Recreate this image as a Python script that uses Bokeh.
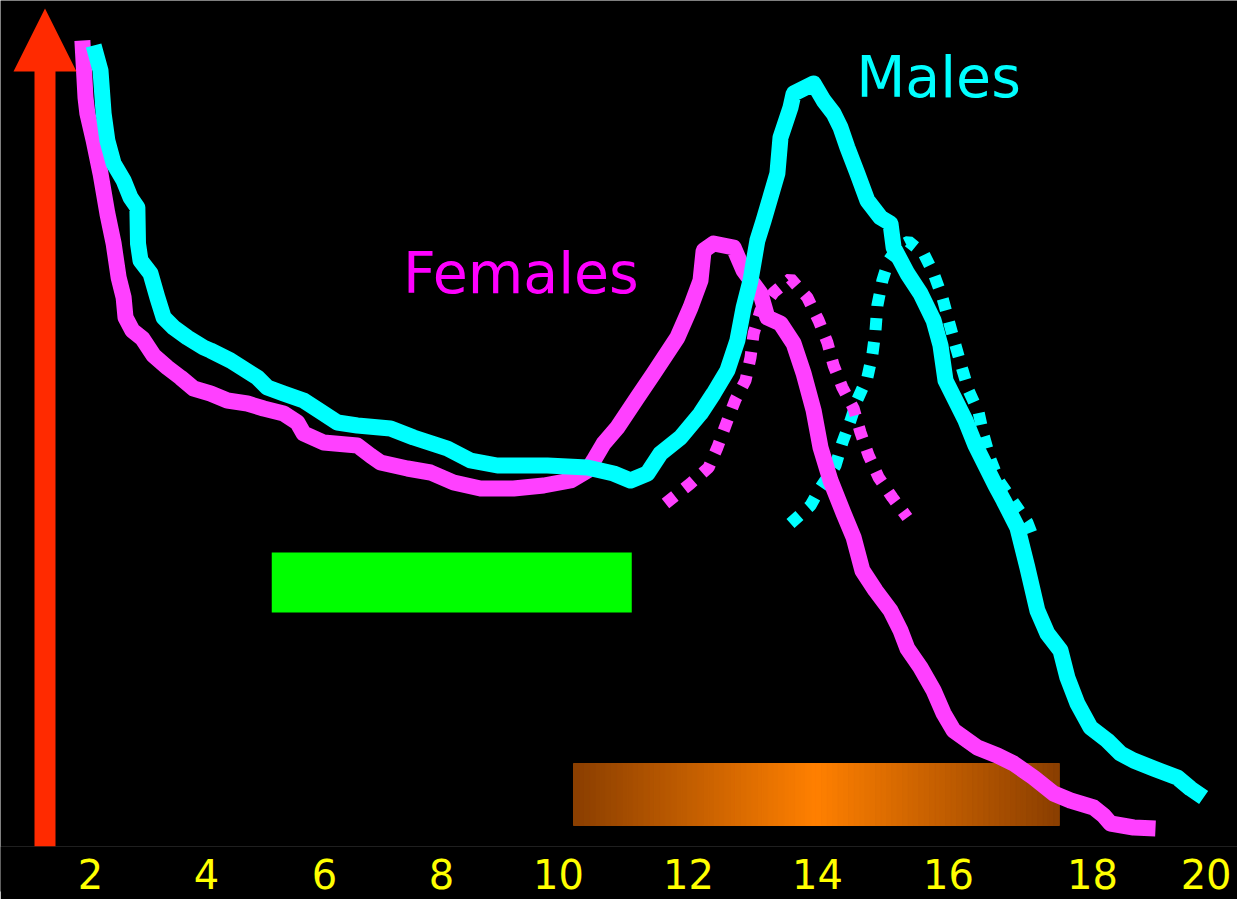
from bokeh.plotting import figure
from bokeh.models import Range1d, FixedTicker
from bokeh.core.properties import value
from bokeh.embed import file_html
from bokeh.resources import INLINE

# ---- data (age in years, growth velocity in arbitrary units) ----
female_age = [1.87, 1.92, 1.95, 2.05, 2.16, 2.27, 2.37, 2.45, 2.53, 2.56, 2.67, 2.83, 3.01, 3.23,
              3.44, 3.65, 3.92, 4.19, 4.51, 4.77, 5.09, 5.31, 5.41, 5.73, 6.27, 6.48, 6.64, 7.07,
              7.44, 7.81, 8.24, 8.77, 9.25, 9.68, 9.95, 10.05, 10.21, 10.43, 10.75, 11.01, 11.39,
              11.60, 11.76, 11.81, 11.97, 12.29, 12.45, 12.72, 12.83, 13.04, 13.25, 13.41, 13.57,
              13.68, 13.84, 14.05, 14.21, 14.35, 14.56, 14.80, 14.96, 15.07, 15.28, 15.49, 15.65,
              15.81, 16.19, 16.51, 16.77, 17.09, 17.41, 17.68, 18.05, 18.21, 18.32, 18.69, 19.04]
female_vel = [81.8, 76.1, 74.5, 71.8, 68.5, 64.5, 61.5, 58.1, 56.1, 54.1, 52.8, 52.0, 50.3, 49.1,
              48.1, 47.0, 46.5, 45.8, 45.5, 45.0, 44.5, 43.6, 42.5, 41.6, 41.3, 40.3, 39.6, 39.0,
              38.6, 37.6, 37.0, 37.0, 37.3, 37.8, 38.8, 39.8, 41.5, 43.1, 46.1, 48.5, 52.1,
              55.1, 57.8, 60.8, 61.5, 61.1, 58.8, 56.5, 54.1, 53.5, 51.5, 48.5, 44.8,
              41.1, 37.8, 34.5, 32.1, 28.8, 26.8, 24.8, 22.8, 21.0, 19.1, 16.8, 14.5,
              12.8, 11.1, 10.3, 9.5, 8.1, 6.5, 5.8, 5.1, 4.3, 3.5, 3.1, 3.0]

male_age = [2.05, 2.16, 2.21, 2.27, 2.37, 2.53, 2.64, 2.75, 2.76, 2.80, 2.96, 3.07, 3.17, 3.33,
            3.55, 3.81, 3.92, 4.24, 4.67, 4.83, 5.09, 5.41, 5.73, 5.95, 6.27, 6.80, 7.17, 7.71,
            8.08, 8.51, 9.31, 9.95, 10.37, 10.64, 10.91, 11.12, 11.44, 11.76, 11.97, 12.19,
            12.35, 12.45, 12.56, 12.67, 12.77, 12.99, 13.04, 13.20, 13.25, 13.57, 13.73, 13.89,
            14.00, 14.11, 14.27, 14.43, 14.64, 14.80, 14.85, 15.07, 15.28, 15.49, 15.60, 15.68,
            15.84, 16.00, 16.16, 16.32, 16.48, 16.61, 16.83, 16.99, 17.15, 17.31, 17.52, 17.63,
            17.79, 18.00, 18.27, 18.48, 18.69, 19.01, 19.39, 19.60, 19.81]
male_vel = [81.3, 78.8, 74.5, 71.8, 69.5, 67.8, 66.1, 65.1, 61.5, 59.8, 58.5, 56.1, 54.1, 53.1,
            52.1, 51.1, 50.8, 49.8, 48.1, 47.1, 46.5, 45.8, 44.5, 43.6, 43.3, 43.0, 42.1, 41.0,
            39.8, 39.3, 39.3, 39.1, 38.5, 37.8, 38.5, 40.5, 42.1, 44.5, 46.5, 48.8,
            51.8, 55.1, 57.8, 61.8, 63.8, 68.5, 72.1, 75.1, 76.5, 77.5, 75.8, 74.5,
            73.1, 71.1, 68.5, 65.8, 64.1, 63.5, 61.1, 58.5, 56.5, 53.8, 51.3, 47.8,
            45.8, 43.8, 41.3, 39.3, 37.3, 35.8, 33.1, 29.1, 24.8, 22.5, 20.8, 18.1,
            15.5, 13.1, 11.8, 10.5, 9.8, 9.0, 8.1, 7.0, 6.1]

female_spurt_age = [11.20, 11.60, 11.89, 12.03, 12.19, 12.32, 12.48, 12.56, 12.61, 12.72, 12.93,
                    13.20, 13.47, 13.65, 13.79, 13.89, 14.03, 14.21, 14.32, 14.45, 14.61, 14.83, 15.07]
female_spurt_vel = [35.5, 37.5, 39.1, 41.1, 43.8, 45.9, 47.8, 50.1, 52.5, 54.8, 56.6,
                    58.0, 56.1, 53.8, 51.6, 49.3, 47.1, 45.0, 42.6, 40.3, 38.1, 36.1, 34.1]

male_spurt_age = [13.20, 13.52, 13.68, 13.92, 14.03, 14.16, 14.27, 14.43, 14.51, 14.56, 14.59,
                  14.67, 14.77, 14.93, 15.09, 15.33, 15.49, 15.63, 15.73, 15.84, 15.95, 16.05,
                  16.21, 16.29, 16.40, 16.53, 16.77, 16.99, 17.09]
male_spurt_vel = [33.5, 35.3, 37.1, 39.3, 41.6, 43.8, 45.9, 48.1, 50.4, 52.8, 55.3,
                  57.8, 59.8, 61.2, 61.7, 60.5, 58.5, 56.1, 53.8, 51.3, 48.9, 46.8,
                  44.6, 42.3, 39.9, 37.8, 35.6, 33.6, 32.0]

# age spans of the two horizontal bars
green_span = [4.90, 10.66]
green_level = [24.6, 30.6]
orange_span = [9.73, 17.50]
orange_level = [3.3, 9.5]

tick_labels = ["2", "4", "6", "8", "10", "12", "14", "16", "18", "20"]
tick_at = [2.0, 3.856, 5.744, 7.616, 9.488, 11.568, 13.632, 15.728, 18.032, 19.85]

# ---- figure ----
p = figure(frame_width=1237, frame_height=846, output_backend="svg", toolbar_location=None,
           x_range=Range1d(0.56, 20.352), y_range=Range1d(1.2, 85.8),
           min_border=0, min_border_bottom=53)
p.background_fill_color = "black"
p.border_fill_color = "black"
p.outline_line_color = None
p.grid.visible = False
p.yaxis.visible = False

ax = p.xaxis[0]
ax.ticker = FixedTicker(ticks=tick_at)
ax.major_label_overrides = {t: l for t, l in zip(tick_at, tick_labels)}
ax.axis_line_color = None
ax.major_tick_line_color = None
ax.minor_tick_line_color = None
ax.background_fill_color = "black"
ax.major_label_text_color = "#FFFF00"
ax.major_label_text_font = "DejaVu Sans"
ax.major_label_text_font_size = "40px"
ax.major_label_standoff = 6

# green bar
p.quad(left=green_span[0], right=green_span[1], bottom=green_level[0], top=green_level[1],
       fill_color="#00FF00", line_color=None)

# orange gradient bar (dark brown edges -> bright orange centre)
n = 90
lo, hi = orange_span
w = (hi - lo) / n
lefts, rights, cols = [], [], []
edge = (138, 62, 0)
mid = (255, 128, 0)
for i in range(n):
    a = lo + i * w
    c = a + w / 2
    t = abs(c - (lo + hi) / 2) / ((hi - lo) / 2)
    col = tuple(int(round(mid[k] + (edge[k] - mid[k]) * t)) for k in range(3))
    lefts.append(a)
    rights.append(a + w)
    cols.append("#%02x%02x%02x" % col)
p.quad(left=lefts, right=rights, bottom=orange_level[0], top=orange_level[1],
       fill_color=cols, line_color=cols, line_width=1.2)

# dotted spurt curves
p.line(male_spurt_age, male_spurt_vel, line_color="#00FFFF", line_width=12,
       line_dash="12 12", line_cap="butt")
p.line(female_spurt_age, female_spurt_vel, line_color="#FF40FF", line_width=12,
       line_dash="12 12", line_cap="butt")

# main velocity curves
p.line(female_age, female_vel, line_color="#FF40FF", line_width=16, line_join="round")
p.line(male_age, male_vel, line_color="#00FFFF", line_width=16, line_join="round")

# red upward arrow (vertical axis symbol)
arrow_x = [1.104, 1.44]
arrow_y = [0.3, 78.8]
p.quad(left=arrow_x[0], right=arrow_x[1], bottom=arrow_y[0], top=arrow_y[1],
       fill_color="#FF2A00", line_color=None)
p.patch([0.768, 1.272, 1.776], [78.7, 85.0, 78.7], fill_color="#FF2A00", line_color=None)

# labels
p.text(x=[7.0], y=[58.6], text=["Females"], text_color="#FF00FF",
       text_font=value("DejaVu Sans"), text_font_size="57px", text_baseline="middle")
p.text(x=[14.25], y=[78.2], text=["Males"], text_color="#00FFFF",
       text_font=value("DejaVu Sans"), text_font_size="57px", text_baseline="middle")

open("out.html", "w").write(file_html(p, INLINE))
